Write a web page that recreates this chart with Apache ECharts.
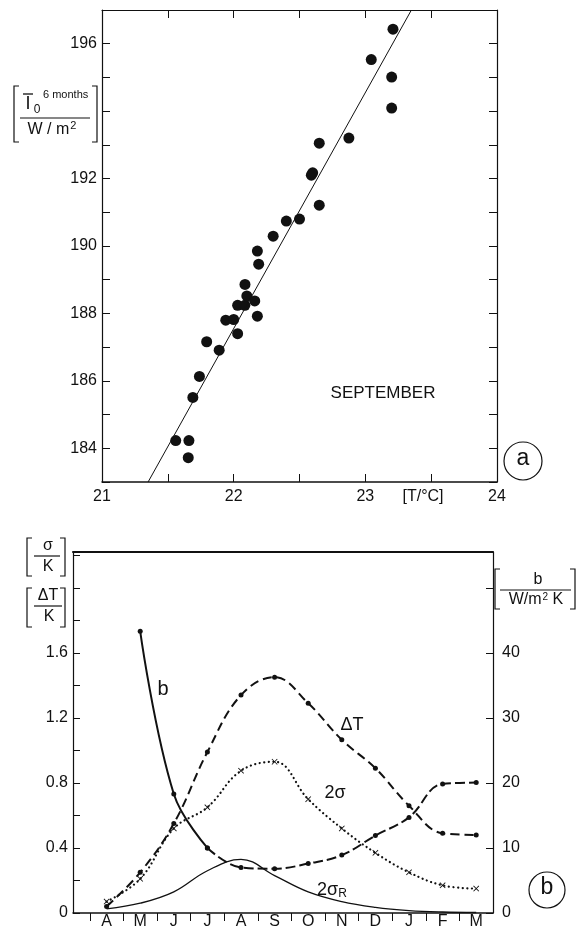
<!DOCTYPE html>
<html><head><meta charset="utf-8">
<script src="https://cdn.jsdelivr.net/npm/echarts@6/dist/echarts.min.js"></script>
<style>html,body{margin:0;padding:0;background:#fff}#c{width:577px;height:932px}</style>
</head><body><div id="c"></div>
<script>
// ---------- Panel (a): September irradiance vs temperature ----------
const tempC = [21.56, 21.66, 21.655, 21.69, 21.74, 21.795, 21.89, 21.94, 22.00, 22.03,
               22.03, 22.085, 22.10, 22.16, 22.18, 22.086, 22.19, 22.18, 22.30, 22.40,
               22.50, 22.65, 22.59, 22.60, 22.65, 22.875, 23.20, 23.20, 23.045, 23.21];
const irr   = [184.23, 184.23, 183.72, 185.51, 186.13, 187.16, 186.91, 187.80, 187.82, 187.40,
               188.24, 188.24, 188.52, 188.37, 187.92, 188.86, 189.46, 189.85, 190.29, 190.74,
               190.80, 191.21, 192.10, 192.17, 193.05, 193.20, 194.09, 195.01, 195.53, 196.43];
const fitT = [21.35, 23.35];
const fitI = [183, 197];
const aXTickLabels = [21, 22, 23, 24];
const aYTickLabels = [184, 186, 188, 190, 192, 196];

// ---------- Panel (b): seasonal cycle ----------
const months    = ['A','M','J','J','A','S','O','N','D','J','F','M'];
const deltaT    = [0.04, 0.25, 0.55, 0.99, 1.34, 1.45, 1.29, 1.065, 0.89, 0.66, 0.49, 0.48];
const twoSigma  = [0.07, 0.21, 0.52, 0.65, 0.875, 0.93, 0.70, 0.52, 0.37, 0.25, 0.17, 0.15];
const twoSigmaR = [0.025, 0.06, 0.13, 0.26, 0.33, 0.23, 0.13, 0.07, 0.035, 0.015, 0.006, 0.003];
const bCoef     = [null, 43.3, 18.3, 10.0, 7.0, 6.8, 7.6, 8.9, 11.9, 14.7, 19.85, 20.05];
const bSolidEnd = 3; // b drawn solid up to July, dashed afterwards
const bLeftTickLabels  = ['0', '0.4', '0.8', '1.2', '1.6'];
const bRightTickLabels = ['0', '10', '20', '30', '40'];

const FONT = 'Liberation Sans, Arial, sans-serif';
const black = '#111';
const lblFmt = list => v => {
  const hit = list.find(s => Math.abs(parseFloat(s) - v) < 1e-6);
  return hit === undefined ? '' : String(hit);
};
const axisLbl = (extra) => Object.assign({color: black, fontSize: 16, fontFamily: FONT}, extra);

const chart = echarts.init(document.getElementById('c'), null, {renderer: 'canvas'});

const xMark = 'path://M0,1 L1,0 L5,4 L9,0 L10,1 L6,5 L10,9 L9,10 L5,6 L1,10 L0,9 L4,5 Z';

function bracket(x, y1, y2, w) {
  return {type: 'polyline', shape: {points: [[x + w, y1], [x, y1], [x, y2], [x + w, y2]]},
          style: {stroke: black, fill: null, lineWidth: 1.2}};
}
function txt(text, x, y, size, extra) {
  return {type: 'text', style: Object.assign({text: text, x: x, y: y, fill: black,
          font: size + 'px ' + FONT, align: 'center', verticalAlign: 'middle'}, extra || {})};
}
function hline(x1, x2, y, w) {
  return {type: 'line', shape: {x1: x1, y1: y, x2: x2, y2: y}, style: {stroke: black, lineWidth: w || 1.2}};
}

const option = {
  backgroundColor: '#fff',
  animation: false,
  grid: [
    {left: 102, top: 10, width: 395, height: 472},
    {left: 73, top: 552, width: 420, height: 361}
  ],
  xAxis: [
    {gridIndex: 0, type: 'value', min: 21, max: 24, interval: 0.5, position: 'bottom',
     axisLine: {onZero: false, lineStyle: {color: black, width: 1.5}},
     axisTick: {inside: true, length: 8, lineStyle: {color: black}},
     axisLabel: axisLbl({margin: 7, formatter: v => aXTickLabels.includes(v) ? String(v) : ''}),
     splitLine: {show: false}},
    {gridIndex: 0, type: 'value', min: 21, max: 24, interval: 0.5, position: 'top',
     axisLine: {onZero: false, lineStyle: {color: black, width: 1}},
     axisTick: {inside: true, length: 8, lineStyle: {color: black}},
     axisLabel: {show: false}, splitLine: {show: false}},
    {gridIndex: 1, type: 'value', min: -1, max: 11.5, position: 'bottom',
     axisLine: {onZero: false, lineStyle: {color: black, width: 1.5}},
     axisTick: {inside: false, length: 8, customValues: months.map((m, i) => i - 0.5), lineStyle: {color: black}},
     axisLabel: axisLbl({margin: 1, fontSize: 16, customValues: months.map((m, i) => i),
                         formatter: v => months[Math.round(v)] || ''}),
     splitLine: {show: false}},
    {gridIndex: 1, type: 'value', min: -1, max: 11.5, position: 'top',
     axisLine: {onZero: false, lineStyle: {color: black, width: 2}},
     axisTick: {show: false}, axisLabel: {show: false}, splitLine: {show: false}}
  ],
  yAxis: [
    {gridIndex: 0, type: 'value', min: 183, max: 197, interval: 1, position: 'left',
     axisLine: {show: true, onZero: false, lineStyle: {color: black, width: 1.2}},
     axisTick: {show: true, inside: true, length: 8, lineStyle: {color: black}},
     axisLabel: axisLbl({margin: 5, formatter: v => aYTickLabels.includes(v) ? String(v) : ''}),
     splitLine: {show: false}},
    {gridIndex: 0, type: 'value', min: 183, max: 197, interval: 1, position: 'right',
     axisLine: {show: true, onZero: false, lineStyle: {color: black, width: 1.2}},
     axisTick: {show: true, inside: true, length: 8, lineStyle: {color: black}},
     axisLabel: {show: false}, splitLine: {show: false}},
    {gridIndex: 1, type: 'value', min: 0, max: 2.22, interval: 0.2, position: 'left',
     axisLine: {show: true, onZero: false, lineStyle: {color: black, width: 1.2}},
     axisTick: {show: true, inside: true, length: 7, lineStyle: {color: black}},
     axisLabel: axisLbl({margin: 5, formatter: lblFmt(bLeftTickLabels)}),
     splitLine: {show: false}},
    {gridIndex: 1, type: 'value', min: 0, max: 55.5, interval: 10, position: 'right',
     axisLine: {show: true, onZero: false, lineStyle: {color: black, width: 1.2}},
     axisTick: {show: true, inside: true, length: 7, lineStyle: {color: black}},
     axisLabel: axisLbl({margin: 9, formatter: lblFmt(bRightTickLabels)}),
     splitLine: {show: false}}
  ],
  series: [
    {type: 'scatter', xAxisIndex: 0, yAxisIndex: 0, symbol: 'circle', symbolSize: 11,
     itemStyle: {color: black, opacity: 1}, data: tempC.map((t, i) => [t, irr[i]])},
    {type: 'line', xAxisIndex: 0, yAxisIndex: 0, symbol: 'none',
     lineStyle: {color: black, width: 1}, data: fitT.map((t, i) => [t, fitI[i]])},

    {type: 'line', name: 'ΔT', xAxisIndex: 2, yAxisIndex: 2, smooth: 0.4,
     symbol: 'circle', symbolSize: 5, itemStyle: {color: black},
     lineStyle: {color: black, width: 2, type: [9, 5]},
     data: deltaT.map((v, i) => [i, v])},
    {type: 'line', name: '2σ', xAxisIndex: 2, yAxisIndex: 2, smooth: 0.4,
     symbol: xMark, symbolSize: 6, itemStyle: {color: black},
     lineStyle: {color: black, width: 2.2, type: [0.1, 4.5], cap: 'round'},
     data: twoSigma.map((v, i) => [i, v])},
    {type: 'line', name: '2σR', xAxisIndex: 2, yAxisIndex: 2, smooth: 0.4,
     symbol: 'none', lineStyle: {color: black, width: 1.3},
     data: twoSigmaR.map((v, i) => [i, v])},
    {type: 'line', name: 'b', xAxisIndex: 2, yAxisIndex: 3, smooth: 0.4,
     symbol: 'circle', symbolSize: 5, itemStyle: {color: black},
     lineStyle: {color: black, width: 2},
     data: bCoef.map((v, i) => [i, v]).filter(p => p[1] !== null && p[0] <= bSolidEnd)},
    {type: 'line', name: 'b ', xAxisIndex: 2, yAxisIndex: 3, smooth: 0.4,
     symbol: 'circle', symbolSize: 5, itemStyle: {color: black},
     lineStyle: {color: black, width: 2, type: [10, 4]},
     data: bCoef.map((v, i) => [i, v]).filter(p => p[1] !== null && p[0] >= bSolidEnd)}
  ],
  graphic: [
    // panel a y-axis name
    bracket(14, 86, 142, 5), bracket(97, 86, 142, -5),
    hline(20, 90, 118, 1.2),
    txt('I', 28, 104, 18),
    hline(23, 33, 94, 1.3),
    txt('0', 37, 110, 12),
    txt('6 months', 43, 95, 11, {align: 'left'}),
    {type: 'text', style: {text: '{a|W / m}{s|2}', x: 52, y: 130, align: 'center', verticalAlign: 'middle',
      fill: black, rich: {a: {fontSize: 16, fontFamily: FONT, fill: black},
                          s: {fontSize: 11, fontFamily: FONT, fill: black, verticalAlign: 'top', padding: [0, 0, 8, 1]}}}},
    txt('SEPTEMBER', 383, 393, 17),
    txt('[T/°C]', 423, 497, 16),
    {type: 'circle', shape: {cx: 523, cy: 461, r: 19}, style: {stroke: black, fill: null, lineWidth: 1.2}},
    txt('a', 523, 459, 23),

    // panel b axis names
    bracket(27, 538, 576, 5), bracket(65, 538, 576, -5),
    hline(34, 60, 556, 1.2),
    txt('σ', 48, 546, 16), txt('K', 48, 567, 16),
    bracket(27, 588, 627, 5), bracket(65, 588, 627, -5),
    hline(34, 62, 606, 1.2),
    txt('ΔT', 48, 596, 16), txt('K', 49, 617, 16),
    bracket(495, 569, 609, 5), bracket(575, 569, 609, -5),
    hline(500, 571, 590, 1.2),
    txt('b', 538, 580, 16),
    {type: 'text', style: {text: '{a|W/m}{s|2}{a| K}', x: 536, y: 600, align: 'center', verticalAlign: 'middle',
      fill: black, rich: {a: {fontSize: 16, fontFamily: FONT, fill: black},
                          s: {fontSize: 10, fontFamily: FONT, fill: black, padding: [0, 0, 6, 1]}}}},

    // curve labels
    txt('b', 163, 689, 20),
    txt('ΔT', 352, 725, 18),
    txt('2σ', 335, 793, 18),
    {type: 'text', style: {text: '{m|2σ}{s|R}', x: 332, y: 890, align: 'center', verticalAlign: 'middle',
      fill: black, rich: {m: {fontSize: 18, fontFamily: FONT, fill: black},
                          s: {fontSize: 12, fontFamily: FONT, fill: black, padding: [8, 0, 0, 0]}}}},
    {type: 'circle', shape: {cx: 547, cy: 890, r: 18}, style: {stroke: black, fill: null, lineWidth: 1.2}},
    txt('b', 547, 888, 23)
  ]
};
chart.setOption(option);
</script>
</body></html>
